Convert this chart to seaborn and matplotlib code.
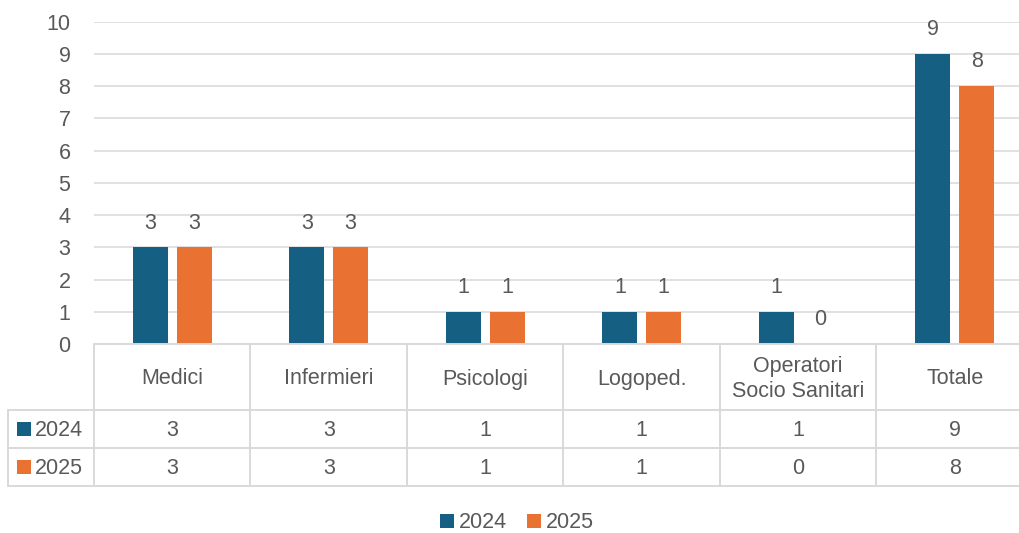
import matplotlib
matplotlib.use("Agg")
import matplotlib.pyplot as plt
import matplotlib.transforms as mtransforms
from matplotlib.lines import Line2D
from matplotlib.patches import Patch, Rectangle
import seaborn as sns
import pandas as pd

# Data
categories = ["Medici", "Infermieri", "Psicologi", "Logoped.", "Operatori\nSocio Sanitari", "Totale"]
years = ["2024", "2025"]
values_2024 = [3, 3, 1, 1, 1, 9]
values_2025 = [3, 3, 1, 1, 0, 8]
y_ticks = list(range(0, 11))

colors = {"2024": "#156082", "2025": "#E97132"}
text_color = "#595959"
line_color = "#D9D9D9"

sns.set_theme(style="white")
plt.rcParams["font.family"] = ["Liberation Sans", "DejaVu Sans"]
FS = 15.5

df = pd.DataFrame({
    "categoria": categories * 2,
    "anno": ["2024"] * len(categories) + ["2025"] * len(categories),
    "valore": values_2024 + values_2025,
})

W, H = 1020, 533
fig = plt.figure(figsize=(W / 100, H / 100), dpi=100)

# plot area in pixel terms (right side runs past the figure edge)
left_px, right_px, top_px, bottom_px = 94, 94 + 6 * 156.5, 21.7, 344
ax = fig.add_axes([left_px / W, 1 - bottom_px / H, (right_px - left_px) / W, (bottom_px - top_px) / H])

sns.barplot(data=df, x="categoria", y="valore", hue="anno", hue_order=years,
            order=categories, palette=colors, saturation=1, width=0.56, gap=0.2,
            linewidth=0, legend=False, ax=ax)

ax.set_xlim(-0.5, len(categories) - 0.5)
ax.set_ylim(0, 10)
ax.set_yticks(y_ticks)
ax.set_yticklabels([str(t) for t in y_ticks], fontsize=FS, color=text_color)
ax.tick_params(axis="y", length=0, pad=17)
ax.set_xticks([])
ax.set_xlabel("")
ax.set_ylabel("")
for s in ax.spines.values():
    s.set_visible(False)
ax.yaxis.grid(True, color=line_color, linewidth=1.1)
ax.set_axisbelow(True)

# value labels above each bar
for cont in ax.containers:
    for bar in cont:
        h = bar.get_height()
        ax.annotate(f"{int(h)}", (bar.get_x() + bar.get_width() / 2, h),
                    xytext=(0, 17.5), textcoords="offset points",
                    ha="center", va="center", fontsize=FS, color=text_color,
                    annotation_clip=False)

# data table below the plot
bt = mtransforms.blended_transform_factory(ax.transData, fig.transFigure)


def fy(py):
    return 1 - py / H


row_top, row_hdr, row_a, row_b = 344, 410, 448, 486
lw = 1.4
# horizontal lines
fig.add_artist(Line2D([left_px / W, 1], [fy(row_top)] * 2, color=line_color, lw=lw))
for yy in (row_hdr, row_a, row_b):
    fig.add_artist(Line2D([8 / W, 1], [fy(yy)] * 2, color=line_color, lw=lw))
# vertical lines
fig.add_artist(Line2D([8 / W] * 2, [fy(row_hdr), fy(row_b)], color=line_color, lw=lw))
for k in range(len(categories)):
    fig.add_artist(Line2D([k - 0.5] * 2, [fy(row_top), fy(row_b)], color=line_color,
                          lw=lw, transform=bt))

for i, cat in enumerate(categories):
    fig.text(i, fy((row_top + row_hdr) / 2 + 2), cat, transform=bt, ha="center", va="center",
             fontsize=FS, color=text_color, linespacing=1.3, multialignment="center")
    fig.text(i, fy((row_hdr + row_a) / 2 + 2), str(values_2024[i]), transform=bt,
             ha="center", va="center", fontsize=FS, color=text_color)
    fig.text(i, fy((row_a + row_b) / 2 + 2), str(values_2025[i]), transform=bt,
             ha="center", va="center", fontsize=FS, color=text_color)

for yr, (ya, yb) in zip(years, [(row_hdr, row_a), (row_a, row_b)]):
    yc = (ya + yb) / 2
    fig.add_artist(Rectangle((17 / W, fy(yc + 7)), 14 / W, 14 / H,
                             transform=fig.transFigure, color=colors[yr], lw=0))
    fig.text(35 / W, fy(yc + 2), yr, ha="left", va="center", fontsize=FS, color=text_color)

# legend
handles = [Patch(facecolor=colors[y], edgecolor="none", label=y) for y in years]
leg = fig.legend(handles=handles, loc="center", bbox_to_anchor=(517 / W, fy(523)),
                 ncol=2, frameon=False, fontsize=FS, handlelength=0.65, handleheight=0.65,
                 handletextpad=0.25, columnspacing=0.9)
for t in leg.get_texts():
    t.set_color(text_color)

fig.savefig("out.png", dpi=100)
